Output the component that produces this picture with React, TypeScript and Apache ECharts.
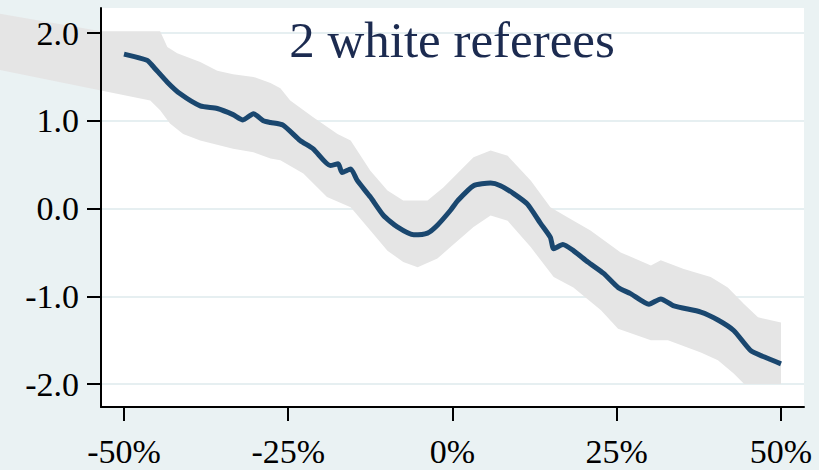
import React, { useEffect, useRef } from "react";
import * as echarts from "echarts";

// x positions (%) and estimate of the local-linear fit
const lineX = [-50, -46.5, -45.7, -43.4, -41.5, -38.4, -35.8, -33.4, -31.9, -30.3, -28.8, -27.7, -25.8, -23.2, -21.2, -18.6, -17.4, -16.8, -15.5, -14.5, -12.5, -10.5, -8.4, -5.9, -3.8, -2.3, -0.3, 0.8, 3.2, 5.8, 7.3, 9.3, 11.4, 13.4, 14.9, 15.4, 16.8, 18.4, 20.6, 23.0, 25.2, 27.1, 29.9, 31.7, 33.7, 37.8, 40.4, 42.8, 45.4, 47.4, 50];
const lineY = [1.76, 1.69, 1.63, 1.44, 1.31, 1.17, 1.14, 1.07, 1.01, 1.08, 1.0, 0.98, 0.95, 0.775, 0.68, 0.49, 0.51, 0.41, 0.45, 0.32, 0.13, -0.08, -0.21, -0.3, -0.28, -0.19, -0.02, 0.09, 0.26, 0.29, 0.26, 0.17, 0.05, -0.17, -0.33, -0.46, -0.41, -0.48, -0.61, -0.74, -0.9, -0.97, -1.09, -1.03, -1.11, -1.18, -1.27, -1.39, -1.62, -1.69, -1.77];

// confidence band: upper edge
const bandUpX = [-75, -68.9, -53.5, -44.5, -43.4, -41.9, -38.4, -35.8, -33.4, -30.3, -27.7, -26.2, -24.7, -21.2, -17.5, -15.5, -12.5, -9.9, -7.5, -3.8, -1.4, 3.2, 5.8, 8.4, 11.9, 14.9, 17.5, 21.0, 25.6, 30.2, 31.7, 35.2, 39.3, 41.9, 44.4, 46.5, 50];
const bandUpY = [2.3, 2.22, 2.02, 2.02, 1.84, 1.77, 1.67, 1.57, 1.53, 1.5, 1.43, 1.37, 1.23, 1.04, 0.85, 0.775, 0.43, 0.205, 0.09, 0.09, 0.24, 0.585, 0.66, 0.6, 0.32, 0.015, -0.1, -0.25, -0.5, -0.65, -0.59, -0.69, -0.78, -0.9, -1.09, -1.24, -1.3];
// confidence band: lower edge
const bandLoX = [-75, -68.9, -53.5, -46.0, -44.5, -43.0, -41.0, -38.4, -33.4, -30.3, -27.7, -26.2, -22.7, -19.1, -15.5, -12.5, -9.9, -7.5, -5.3, -2.3, -0.3, 3.2, 5.8, 8.4, 11.9, 15.4, 18.4, 22.6, 25.2, 30.2, 32.8, 37.8, 40.4, 42.8, 44.4, 50];
const bandLoY = [1.67, 1.58, 1.345, 1.23, 1.12, 0.97, 0.85, 0.775, 0.68, 0.64, 0.57, 0.55, 0.4, 0.13, 0.015, -0.25, -0.48, -0.61, -0.67, -0.57, -0.44, -0.21, -0.08, -0.14, -0.44, -0.78, -0.9, -1.16, -1.37, -1.5, -1.5, -1.64, -1.73, -1.88, -2.0, -2.0];

const xTicks = [-50, -25, 0, 25, 50];
const yTicks = [-2, -1, 0, 1, 2];
const titleText = "2 white referees";

const FONT = "'Liberation Serif', 'Times New Roman', serif";

export default function App() {
  const ref = useRef<HTMLDivElement>(null);
  useEffect(() => {
    if (!ref.current) return;
    const chart = echarts.init(ref.current, undefined, { renderer: "svg" });
    const yMin = -2.262;
    const yMax = 2.285;
    const axisLineStyle = { color: "#000", width: 2 };
    chart.setOption({
      animation: false,
      backgroundColor: "#eaf2f3",
      textStyle: { fontFamily: FONT },
      grid: {
        left: 101,
        right: 15,
        top: 8,
        bottom: 63,
        show: true,
        backgroundColor: "#ffffff",
        borderWidth: 0,
      },
      graphic: [
        {
          type: "text",
          x: 452,
          y: 39.5,
          z: 20,
          style: {
            text: titleText,
            font: `51px ${FONT}`,
            fill: "#1c2b50",
            align: "center",
            verticalAlign: "middle",
          },
        },
      ],
      xAxis: {
        type: "value",
        min: -53.5,
        max: 53.5,
        z: 10,
        axisLine: { show: true, onZero: false, lineStyle: axisLineStyle },
        axisTick: { show: true, length: 14, lineStyle: axisLineStyle, customValues: xTicks },
        axisLabel: {
          customValues: xTicks,
          formatter: (v: number) => `${v}%`,
          fontSize: 34,
          fontFamily: FONT,
          color: "#000",
          margin: 27,
        },
        splitLine: { show: false },
      },
      yAxis: [
        {
          type: "value",
          min: yMin,
          max: yMax,
          position: "left",
          z: 1,
          axisLine: { show: false },
          axisTick: { show: false, customValues: yTicks },
          axisLabel: { show: false, customValues: yTicks },
          splitLine: { show: true, lineStyle: { color: "#e6eff1", width: 2 } },
        },
        {
          type: "value",
          min: yMin,
          max: yMax,
          position: "left",
          z: 10,
          axisLine: { show: true, onZero: false, lineStyle: axisLineStyle },
          axisTick: { show: true, length: 14, lineStyle: axisLineStyle, customValues: yTicks },
          axisLabel: {
            customValues: yTicks,
            formatter: (v: number) => v.toFixed(1),
            fontSize: 34,
            fontFamily: FONT,
            color: "#000",
            margin: 22,
            padding: [5, 0, 0, 0],
          },
          splitLine: { show: false },
        },
      ],
      series: [
        {
          type: "custom",
          name: "band",
          coordinateSystem: "cartesian2d",
          xAxisIndex: 0,
          yAxisIndex: 0,
          clip: false,
          z: 2,
          silent: true,
          data: [[0, 0]],
          renderItem: (_params: any, api: any) => {
            const pts: number[][] = [];
            for (let i = 0; i < bandUpX.length; i++) pts.push(api.coord([bandUpX[i], bandUpY[i]]));
            for (let i = bandLoX.length - 1; i >= 0; i--) pts.push(api.coord([bandLoX[i], bandLoY[i]]));
            return {
              type: "polygon",
              shape: { points: pts },
              style: { fill: "#e5e5e5", stroke: "none" },
            };
          },
        },
        {
          type: "line",
          name: "fit",
          xAxisIndex: 0,
          yAxisIndex: 0,
          z: 3,
          data: lineX.map((x, i) => [x, lineY[i]]),
          showSymbol: false,
          smooth: 0.2,
          lineStyle: { color: "#1a476f", width: 5 },
        },
      ],
    });
    return () => chart.dispose();
  }, []);
  return (
    <div
      ref={ref}
      style={{ position: "absolute", left: 0, top: 0, width: 819, height: 470 }}
    />
  );
}
